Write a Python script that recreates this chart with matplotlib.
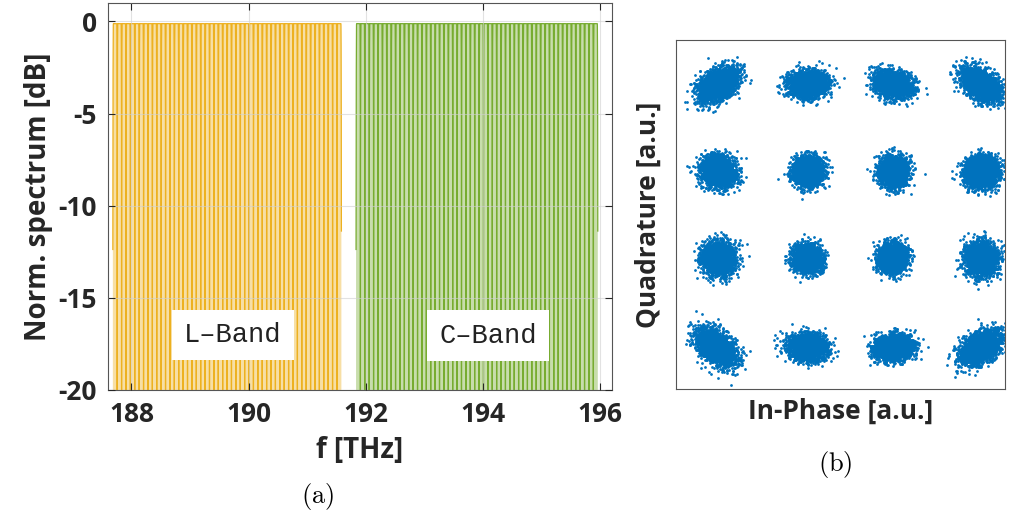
import numpy as np
import matplotlib
matplotlib.use('Agg')
import matplotlib.pyplot as plt

# ---- data ----
# WDM spectrum: channel grid of both bands (THz)
ch_spacing = 0.075
ch_width = 0.068           # occupied bandwidth incl. roll-off
ch_rolloff = 0.15
l_first, l_count = 187.72, 52
c_first, c_count = 191.87, 55
band_names = ['L\u2013Band', 'C\u2013Band']
band_label_x = [189.73, 194.08]
band_label_y = [-17.0, -17.05]

# 16QAM constellation: cloud centres, spreads (a.u.) and tilt (deg)
qam_x = np.array([[-3.00, -0.95, 0.99, 3.00],
                  [-3.00, -0.95, 1.00, 3.00],
                  [-3.00, -0.97, 0.99, 3.00],
                  [-3.05, -0.97, 0.99, 2.98]])
qam_y = np.array([[2.98, 2.98, 2.98, 2.98],
                  [1.00, 1.00, 1.00, 1.00],
                  [-0.98, -0.98, -0.98, -0.98],
                  [-3.00, -3.00, -3.00, -3.00]])
qam_sx = np.array([[0.25, 0.22, 0.21, 0.25],
                   [0.17, 0.16, 0.16, 0.17],
                   [0.18, 0.16, 0.16, 0.18],
                   [0.25, 0.21, 0.21, 0.25]])
qam_sy = np.array([[0.15, 0.14, 0.14, 0.15],
                   [0.19, 0.16, 0.16, 0.19],
                   [0.18, 0.15, 0.15, 0.18],
                   [0.15, 0.14, 0.14, 0.15]])
qam_tilt = np.array([[35, 5, -15, -35],
                     [60, 0, 80, 90],
                     [90, 0, 90, 90],
                     [-40, -5, 5, 35]])
pts_per_symbol = 2500

yellow = '#EDB120'
green = '#77AC30'
blue = '#0072BD'
axcol = '#262626'

plt.rcParams['font.family'] = ['Open Sans', 'DejaVu Sans']
plt.rcParams['mathtext.fontset'] = 'cm'
plt.rcParams['axes.unicode_minus'] = False

fig = plt.figure(figsize=(10.19, 5.22), dpi=100)

# ---------------- (a) spectrum ----------------
ax = fig.add_axes([0.106, 0.2529, 0.4946, 0.7414])


def band_spectrum(first, count):
    centres = first + ch_spacing * np.arange(count)
    f = np.arange(centres[0] - ch_spacing / 2, centres[-1] + ch_spacing / 2, 0.0002)
    h = np.zeros_like(f)
    flat = (1 - ch_rolloff) * ch_width / 2
    trans = ch_rolloff * ch_width
    for fc in centres:
        d = np.abs(f - fc)
        h[d <= flat] = 1.0
        m = (d > flat) & (d <= flat + trans)
        h[m] = 0.5 * (1 + np.cos(np.pi * (d[m] - flat) / trans))
    return f, 10 * np.log10(np.maximum(h, 1e-4)) - 0.12


for (first, count), col in [((l_first, l_count), yellow), ((c_first, c_count), green)]:
    f, s = band_spectrum(first, count)
    ax.fill_between(f, -40, s, color=col, alpha=0.4, lw=0)
    ax.plot(f, s, color=col, lw=0.9)

for name, x, y in zip(band_names, band_label_x, band_label_y):
    ax.text(x, y, name, family='Liberation Mono', fontsize=19.5, color='#222222',
            ha='center', va='center',
            bbox=dict(facecolor='white', edgecolor='none', boxstyle='square,pad=0.45'))

ax.set_xlim(187.6, 196.2)
ax.set_ylim(-20, 1)
ax.set_xticks([188, 190, 192, 194, 196])
ax.set_yticks([0, -5, -10, -15, -20])
ax.grid(True, color='#d0d0d0', lw=0.8, alpha=0.6)
ax.set_axisbelow(False)
ax.tick_params(direction='in', top=True, right=True, length=5, color=axcol,
               labelsize=19, labelcolor=axcol, pad=8)
for lab in ax.get_xticklabels() + ax.get_yticklabels():
    lab.set_fontweight('bold')
for sp in ax.spines.values():
    sp.set_color('#555555')
ax.set_xlabel('f [THz]', fontsize=20, fontweight='bold', color=axcol, labelpad=6)
ax.set_ylabel('Norm. spectrum [dB]', fontsize=20, fontweight='bold', color=axcol, labelpad=4)

fig.text(318 / 1019, 1 - 497 / 522, r'$(\mathrm{a})$', fontsize=19, ha='center', va='center')

# ---------------- (b) constellation ----------------
bx = fig.add_axes([0.6634, 0.2548, 0.3229, 0.6686])
rng = np.random.default_rng(7)
xs, ys = [], []
for i in range(4):
    for j in range(4):
        n = rng.standard_normal((2, pts_per_symbol))
        a = np.deg2rad(qam_tilt[i, j])
        u = n[0] * qam_sx[i, j]
        v = n[1] * qam_sy[i, j]
        xs.append(qam_x[i, j] + u * np.cos(a) - v * np.sin(a))
        ys.append(qam_y[i, j] + u * np.sin(a) + v * np.cos(a))
bx.scatter(np.concatenate(xs), np.concatenate(ys), s=4, color=blue, lw=0)
bx.set_xlim(-3.96, 3.55)
bx.set_ylim(-3.95, 3.98)
bx.set_xticks([])
bx.set_yticks([])
for sp in bx.spines.values():
    sp.set_color('#555555')
bx.set_xlabel('In-Phase [a.u.]', fontsize=19, fontweight='bold', color=axcol, labelpad=6)
bx.set_ylabel('Quadrature [a.u.]', fontsize=19, fontweight='bold', color=axcol, labelpad=10)

fig.text(835 / 1019, 1 - 465 / 522, r'$(\mathrm{b})$', fontsize=19, ha='center', va='center')

fig.savefig('out.png', dpi=100)
